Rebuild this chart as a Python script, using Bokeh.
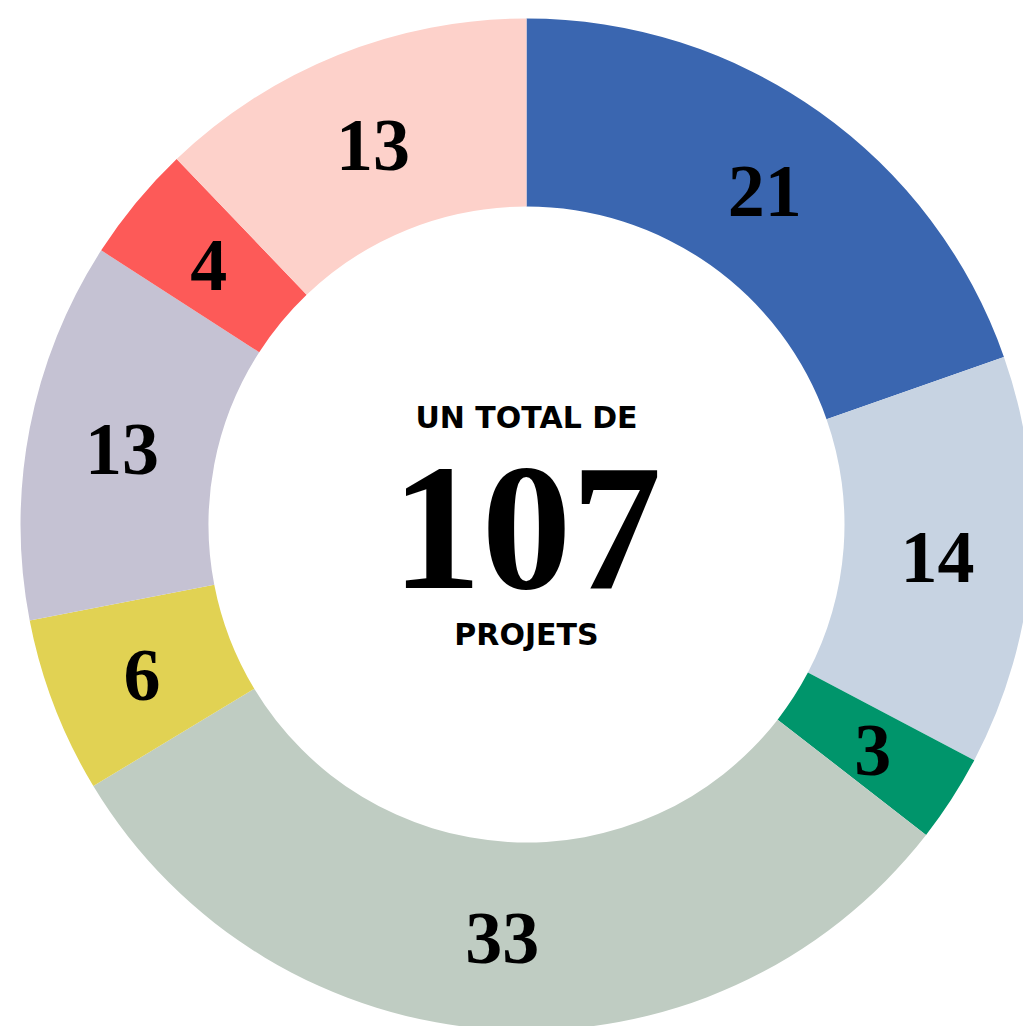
import numpy as np
from bokeh.plotting import figure
from bokeh.models import ColumnDataSource
from bokeh.core.properties import value
from bokeh.embed import file_html
from bokeh.resources import INLINE

categories = ["A", "B", "C", "D", "E", "F", "G", "H"]
values = [21, 14, 3, 33, 6, 13, 4, 13]
colors = ["#3a66b0", "#c7d3e2", "#00956b", "#bfccc2", "#e1d253", "#c5c2d3", "#fd5a58", "#fdd1ca"]
center_top = "UN TOTAL DE"
center_bottom = "PROJETS"

W, H = 1023, 1026
cx, cy = 526, -524
r_in, r_out = 318, 506

total = sum(values)
cum = np.cumsum([0] + values)
start = np.pi / 2 - cum[:-1] / total * 2 * np.pi
end = np.pi / 2 - cum[1:] / total * 2 * np.pi
mid = (start + end) / 2
r_lab = (r_in + r_out) / 2

src = ColumnDataSource(dict(
    cat=categories, val=values, color=colors,
    start=start, end=end,
    lx=cx + r_lab * np.cos(mid), ly=cy + r_lab * np.sin(mid) - 3,
    label=[str(v) for v in values],
))

p = figure(width=W, height=H, x_range=(0, W), y_range=(-H, 0),
           output_backend="svg", toolbar_location=None, min_border=0)
p.axis.visible = False
p.grid.visible = False
p.outline_line_color = None
p.background_fill_color = "white"
p.border_fill_color = "white"

p.annular_wedge(x=cx, y=cy, inner_radius=r_in, outer_radius=r_out,
                start_angle="start", end_angle="end", direction="clock",
                fill_color="color", line_color=None, source=src)

p.text(x="lx", y="ly", text="label", source=src, text_align="center",
       text_baseline="middle", text_font=value("Liberation Serif"),
       text_font_style="bold", text_font_size="74px", text_color="black")

p.text(x=[cx], y=[-417], text=[center_top], text_align="center", text_baseline="middle",
       text_font=value("DejaVu Sans"), text_font_style="bold", text_font_size="30px",
       text_color="black")
p.text(x=[cx], y=[-528], text=[str(total)], text_align="center", text_baseline="middle",
       text_font=value("Liberation Serif"), text_font_style="bold", text_font_size="180px",
       text_color="black")
p.text(x=[cx], y=[-634], text=[center_bottom], text_align="center", text_baseline="middle",
       text_font=value("DejaVu Sans"), text_font_style="bold", text_font_size="30px",
       text_color="black")

open("out.html", "w").write(file_html(p, INLINE))
